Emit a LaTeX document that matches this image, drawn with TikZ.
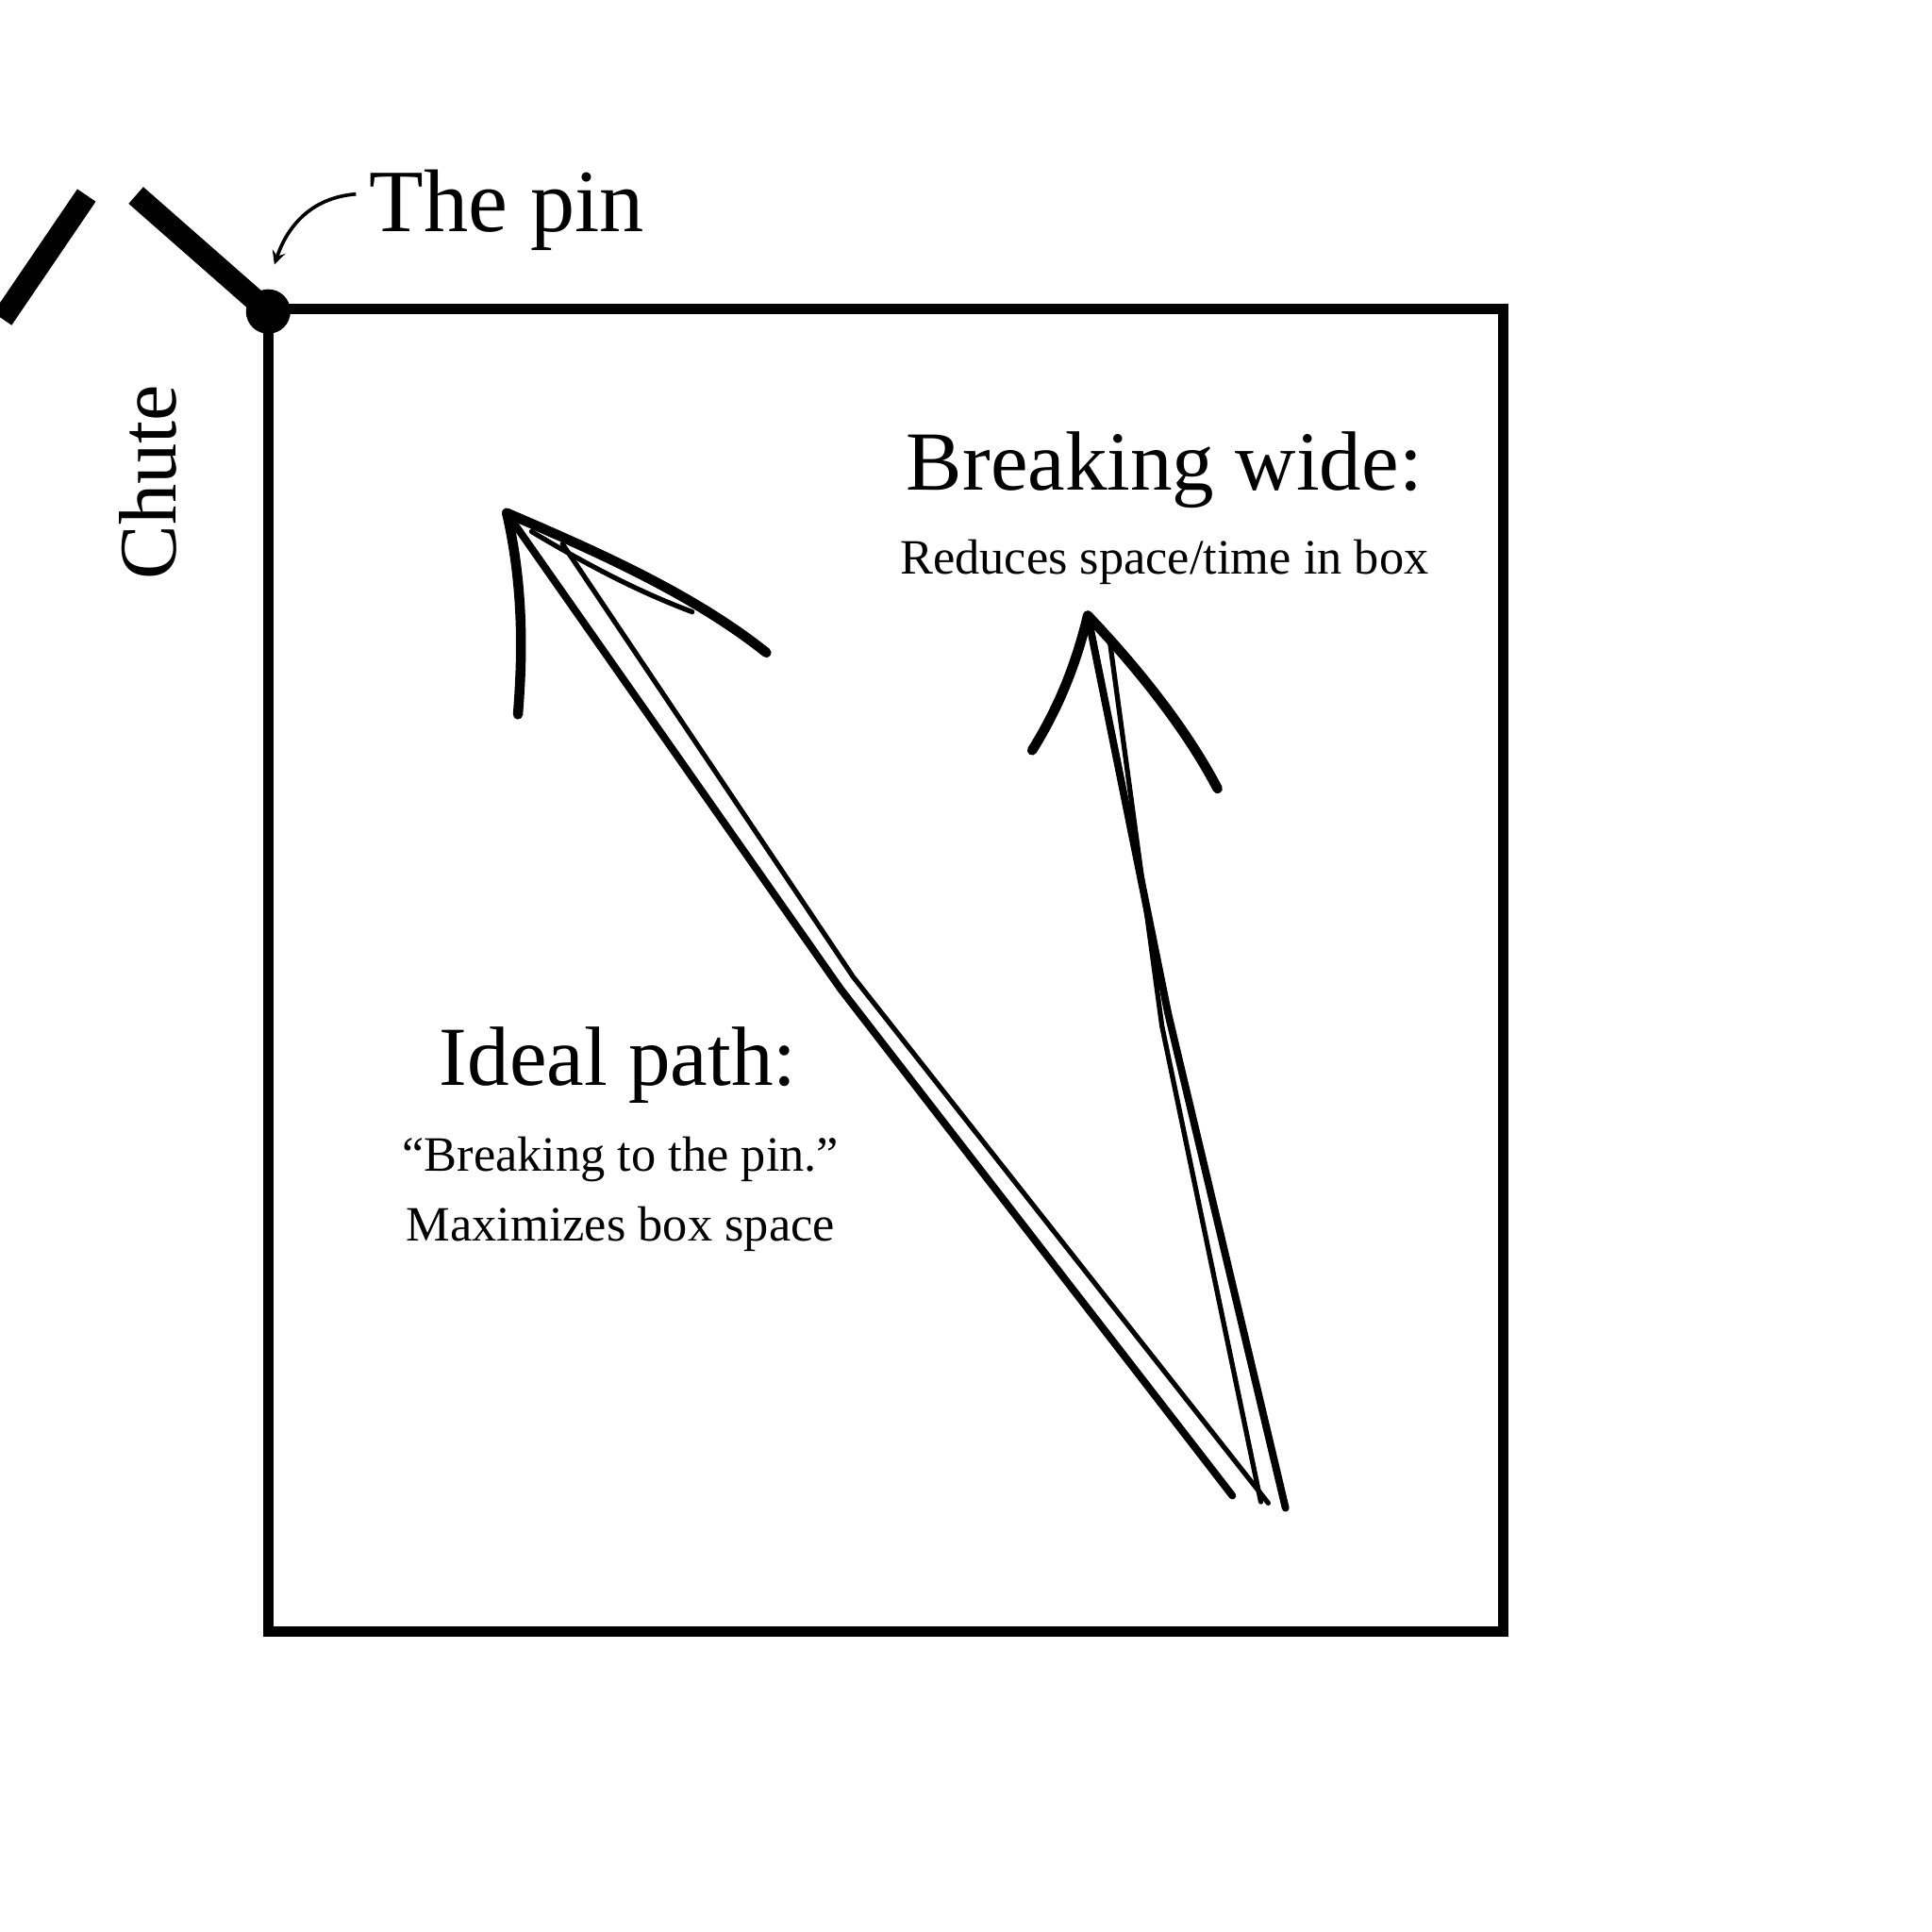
\documentclass[tikz,border=0pt]{standalone}
\usepackage{fontspec}
\setmainfont{Liberation Serif}
\begin{document}
\begin{tikzpicture}[x=0.5pt,y=0.5pt,yscale=-1,xscale=1,
  stroke/.style={line width=3pt,line cap=round},
  head/.style={line width=4pt,line cap=round},
  thin stroke/.style={line width=2pt,line cap=round}]
\useasboundingbox (0,0) rectangle (1563,1563);

%Box
\draw [line width=4pt] (217,250) rectangle (1216,1320);
%Chute
\draw [line width=9pt] (110,158) -- (217,252);
\draw [line width=9pt] (70,158) -- (2,258);
\fill (217,252) circle (18);

%Pin pointer
\draw [line width=1.4pt,-stealth] (288,157) .. controls (250,160) and (232,185) .. (222,214);

%Ideal path arrow
\draw [stroke] (997,1210) -- (680,800) -- (410,415);
\draw [thin stroke] (1026,1216) -- (690,790) -- (455,440);
\draw [head] (410,415) .. controls (425,480) and (422,540) .. (419,578);
\draw [head] (410,415) .. controls (480,445) and (560,480) .. (620,528);
\draw [thin stroke] (430,430) .. controls (480,460) and (520,480) .. (560,495);

%Breaking wide arrow
\draw [stroke] (1040,1220) -- (945,820) -- (880,498);
\draw [thin stroke] (1020,1215) -- (940,830) -- (898,520);
\draw [head] (880,498) .. controls (870,540) and (855,575) .. (835,607);
\draw [head] (880,498) .. controls (920,540) and (960,590) .. (985,638);

\node (pin) [font=\fontsize{36}{44}\selectfont, anchor=west] at (292,170) {The pin};
\node (chute) [font=\fontsize{33}{40}\selectfont, rotate=90] at (120,390) {Chute};
\node (wide) [font=\fontsize{34}{40}\selectfont] at (942,380) {Breaking wide:};
\node (widesub) [font=\fontsize{20}{24}\selectfont] at (942,455) {Reduces space/time in box};
\node (ideal) [font=\fontsize{34}{40}\selectfont] at (500,862) {Ideal path:};
\node (idealsub) [font=\fontsize{20}{28}\selectfont, align=center] at (502,966) {``Breaking to the pin.''\\Maximizes box space};
\end{tikzpicture}
\end{document}
